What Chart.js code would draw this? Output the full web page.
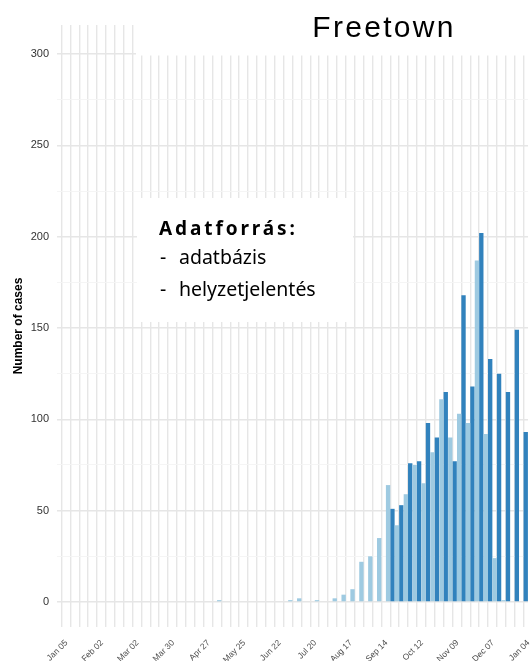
<!DOCTYPE html>
<html>
<head>
<meta charset="utf-8">
<script src="https://cdn.jsdelivr.net/npm/chart.js@4"></script>
<style>
  html, body { margin: 0; padding: 0; background: #fff; }
  #wrap { width: 531px; height: 661px; }
</style>
</head>
<body>
<div id="wrap"><canvas id="canvas" width="531" height="661"></canvas></div>
<script>
// weekly counts, Freetown, week starting Jan 05 2014 .. Jan 04 2015
var weeks = ["Jan 05", "Jan 12", "Jan 19", "Jan 26", "Feb 02", "Feb 09", "Feb 16", "Feb 23",
  "Mar 02", "Mar 09", "Mar 16", "Mar 23", "Mar 30", "Apr 06", "Apr 13", "Apr 20",
  "Apr 27", "May 04", "May 11", "May 18", "May 25", "Jun 01", "Jun 08", "Jun 15",
  "Jun 22", "Jun 29", "Jul 06", "Jul 13", "Jul 20", "Jul 27", "Aug 03", "Aug 10",
  "Aug 17", "Aug 24", "Aug 31", "Sep 07", "Sep 14", "Sep 21", "Sep 28", "Oct 05",
  "Oct 12", "Oct 19", "Oct 26", "Nov 02", "Nov 09", "Nov 16", "Nov 23", "Nov 30",
  "Dec 07", "Dec 14", "Dec 21", "Dec 28", "Jan 04"];

// adatbázis (database)
var database = [0, 0, 0, 0, 0, 0, 0, 0, 0, 0, 0, 0, 0, 0, 0, 0,
  0, 0, 1, 0, 0, 0, 0, 0, 0, 0, 1, 2, 0, 1, 0, 2,
  4, 7, 22, 25, 35, 64, 42, 59, 75, 65, 82, 111, 90, 103, 98, 187,
  92, 24, 1, 0, 0];

// helyzetjelentés (situation report)
var sitrep = [0, 0, 0, 0, 0, 0, 0, 0, 0, 0, 0, 0, 0, 0, 0, 0,
  0, 0, 0, 0, 0, 0, 0, 0, 0, 0, 0, 0, 0, 0, 0, 0,
  0, 0, 0, 0, 0, 51, 53, 76, 77, 98, 90, 115, 77, 168, 118, 202,
  133, 125, 115, 149, 93];

var yTicks = [0, 50, 100, 150, 200, 250, 300];

var overlay = {
  id: 'overlay',
  afterDraw: function(chart) {
    var c = chart.ctx;
    c.save();
    // title box
    c.fillStyle = '#fff';
    c.fillRect(136, 0, 395, 55.5);
    c.fillStyle = '#000';
    c.font = '30px "Liberation Sans", Arial, sans-serif';
    c.letterSpacing = '2.3px';
    c.textAlign = 'center';
    c.textBaseline = 'alphabetic';
    c.fillText('Freetown', 384, 37);
    // source box
    c.fillStyle = '#fff';
    c.fillRect(137, 198, 216, 124);
    c.fillStyle = '#000';
    c.textAlign = 'left';
    c.font = 'bold 19px "Noto Sans", sans-serif';
    c.letterSpacing = '2.9px';
    c.fillText('Adatforrás:', 159, 235);
    c.letterSpacing = '0px';
    c.font = '19.5px "Noto Sans", sans-serif';
    c.fillText('-', 160, 264);
    c.fillText('adatbázis', 179, 264);
    c.fillText('-', 160, 296);
    c.fillText('helyzetjelentés', 179, 296);
    c.restore();
  }
};

var ctx = document.getElementById('canvas');
var chart = new Chart(ctx, {
  type: 'bar',
  data: {
    labels: weeks,
    datasets: [
      { label: 'adatbázis', data: database, backgroundColor: '#9ecae1', borderWidth: 0 },
      { label: 'helyzetjelentés', data: sitrep, backgroundColor: '#3182bd', borderWidth: 0 }
    ]
  },
  plugins: [overlay],
  options: {
    responsive: false,
    animation: false,
    layout: { padding: { top: 25, right: 3, bottom: 0, left: 0 } },
    datasets: { bar: { categoryPercentage: 0.98, barPercentage: 1 } },
    plugins: { legend: { display: false }, tooltip: { enabled: false } },
    scales: {
      x: {
        offset: true,
        grid: { offset: false, color: '#e6e6e6', lineWidth: 1.4, drawTicks: false },
        border: { display: false },
        ticks: {
          autoSkip: false, minRotation: 45, maxRotation: 45, padding: 11, labelOffset: 5,
          color: '#4d4d4d', font: { size: 8.5, family: '"Liberation Sans", Arial, sans-serif' },
          callback: function(v, i) { return i % 4 === 0 ? weeks[i] : ''; }
        },
        afterFit: function(s) { s.height = 34; s.paddingLeft = 0; s.paddingRight = 0; }
      },
      y: {
        min: -13.7, max: 315.9,
        grid: {
          drawTicks: false,
          color: function(c) { return yTicks.indexOf(c.tick.value) >= 0 ? '#e6e6e6' : '#f4f4f4'; },
          lineWidth: function(c) { return yTicks.indexOf(c.tick.value) >= 0 ? 1.4 : 0.9; }
        },
        border: { display: false },
        ticks: {
          stepSize: 25, includeBounds: false, padding: 8,
          color: '#333', font: { size: 11, family: '"Liberation Sans", Arial, sans-serif' },
          callback: function(v) { return yTicks.indexOf(v) >= 0 ? v : ''; }
        },
        title: {
          display: true, text: 'Number of cases', color: '#000',
          font: { size: 12, weight: 'bold', family: '"Liberation Sans", Arial, sans-serif' },
          padding: { top: 11, bottom: 0 }
        },
        afterFit: function(s) { s.width = 57; }
      }
    }
  }
});
</script>
</body>
</html>
